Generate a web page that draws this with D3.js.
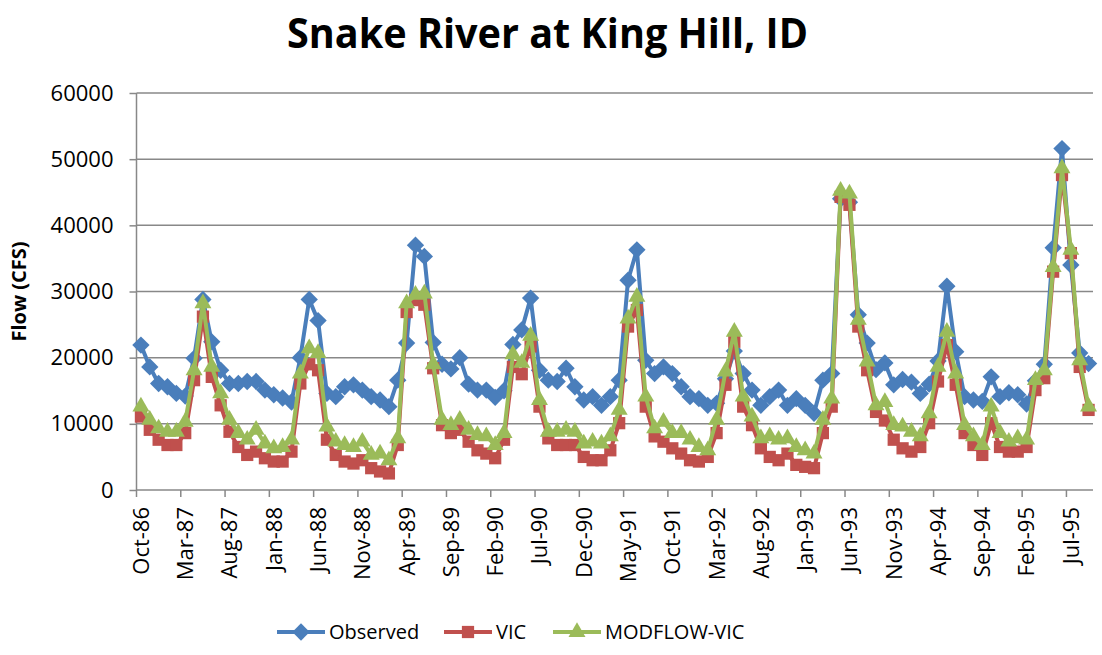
<!DOCTYPE html>
<html>
<head>
<meta charset="utf-8">
<script src="https://cdn.jsdelivr.net/npm/d3@7"></script>
<style>
  body { margin: 0; background: #fff; }
  text { font-family: "Open Sans", sans-serif; fill: #000; }
</style>
</head>
<body>
<div id="chart"></div>
<script>
// monthly flows, Oct-86 .. Sep-95
var observed = [21900, 18600, 16100, 15600, 14600, 14200, 19900, 28800, 22400, 18100, 16100, 16100,
  16400, 16400, 15100, 14400, 13900, 13300, 20000, 28800, 25600, 14600, 14100, 15600,
  15900, 15100, 14100, 13600, 12600, 16600, 22200, 37000, 35300, 22300, 19000, 18300,
  20000, 16000, 15100, 15100, 14000, 15000, 22000, 24200, 29000, 18100, 16600, 16400,
  18400, 15600, 13600, 14100, 12800, 14100, 16600, 31700, 36300, 19600, 17600, 18600,
  17600, 15600, 14100, 13800, 12800, 13100, 16800, 21000, 17600, 15100, 12800, 14100,
  15100, 12800, 13800, 12800, 11600, 16600, 17600, 44000, 43500, 26500, 22200, 18200,
  19200, 15900, 16700, 16300, 14600, 16000, 19500, 30800, 20900, 14100, 13600, 13400,
  17100, 14100, 14700, 14400, 13000, 16500, 19000, 36600, 51600, 34000, 20700, 19100]

var vic = [11100, 9100, 7600, 6800, 6800, 8600, 16600, 26200, 17100, 12800, 8800, 6500,
  5300, 5800, 4800, 4300, 4300, 5800, 16100, 19000, 18100, 7600, 5300, 4300,
  4000, 4500, 3300, 2800, 2500, 6800, 26900, 28700, 28000, 18400, 9800, 8600,
  9100, 7300, 6000, 5500, 4800, 7600, 18600, 17500, 21700, 12600, 7800, 6800,
  6800, 6800, 5000, 4500, 4500, 6000, 10100, 24700, 27200, 12600, 8100, 7300,
  6300, 5500, 4500, 4300, 5000, 8600, 15900, 22400, 12600, 9800, 6300, 5000,
  4500, 5500, 3800, 3500, 3300, 8600, 12600, 44300, 43100, 24700, 18100, 11800,
  10500, 7600, 6300, 5800, 6500, 10100, 16400, 21900, 15900, 8600, 6800, 5300,
  10100, 6500, 5800, 5800, 6500, 15100, 16900, 33000, 47600, 35800, 18600, 12100]

var modflowVic = [12600, 10600, 9300, 8800, 8800, 10300, 18100, 28200, 18600, 14600, 10600, 8600,
  7600, 9100, 7000, 6300, 6500, 7600, 17600, 21400, 20700, 9600, 7300, 6800,
  6500, 7300, 5300, 5500, 4500, 7800, 28200, 29500, 29700, 19000, 10600, 9800,
  10600, 9100, 8300, 8100, 6800, 8600, 20500, 19200, 23300, 13600, 8800, 8800,
  9100, 8800, 7000, 7300, 7000, 8100, 12100, 25900, 29200, 14100, 9300, 10300,
  8600, 8600, 7600, 6500, 6000, 10600, 17900, 23900, 14100, 11100, 7800, 8100,
  7600, 7800, 6500, 6000, 5500, 10600, 13800, 45200, 44800, 25700, 19400, 12800,
  13300, 9800, 9600, 8800, 8100, 11600, 18600, 23900, 17600, 9800, 8100, 6800,
  12600, 8600, 7300, 7800, 7600, 16600, 18100, 33700, 48600, 36300, 19600, 12600]

var yTicks = [0, 10000, 20000, 30000, 40000, 50000, 60000]
var xTickLabels = ["Oct-86", "Mar-87", "Aug-87", "Jan-88", "Jun-88", "Nov-88", "Apr-89", "Sep-89",
  "Feb-90", "Jul-90", "Dec-90", "May-91", "Oct-91", "Mar-92", "Aug-92", "Jan-93", "Jun-93",
  "Nov-93", "Apr-94", "Sep-94", "Feb-95", "Jul-95"]
var seriesNames = ["Observed", "VIC", "MODFLOW-VIC"]
var colors = ["#4a7ebb", "#c0504d", "#9bbb59"]

var months = d3.timeMonth.range(new Date(1986, 9, 1), new Date(1995, 9, 1))
var fmt = d3.timeFormat("%b-%y")
var labels = months.map(function(m) { return fmt(m) })

var width = 1102, height = 655
var plotLeft = 136.5, plotRight = 1093, plotTop = 93, plotBottom = 490

var svg = d3.select("#chart").append("svg")
    .attr("width", width)
    .attr("height", height)

var x = d3.scaleBand().domain(labels).range([plotLeft, plotRight]).padding(0)
var y = d3.scaleLinear().domain([0, 60000]).range([plotBottom, plotTop])

// title
svg.append("text")
    .attr("x", 287).attr("y", 48)
    .attr("font-size", 42).attr("font-weight", "bold")
    .attr("textLength", 521).attr("lengthAdjust", "spacingAndGlyphs")
    .text("Snake River at King Hill, ID")

// gridlines
svg.append("g").selectAll("line")
    .data(yTicks.filter(function(d) { return d > 0 }))
    .enter().append("line")
    .attr("x1", plotLeft).attr("x2", plotRight)
    .attr("y1", function(d) { return y(d) }).attr("y2", function(d) { return y(d) })
    .attr("stroke", "#888").attr("stroke-width", 1.5)

// y axis
var yAxis = svg.append("g")
    .attr("transform", "translate(" + plotLeft + ",0)")
    .call(d3.axisLeft(y).tickValues(yTicks).tickSize(7).tickPadding(16).tickFormat(d3.format("d")))
yAxis.selectAll("line, path").attr("stroke", "#888").attr("stroke-width", 1.5)
yAxis.select(".domain").attr("d", "M0," + plotTop + "V" + plotBottom)
yAxis.selectAll("text").attr("font-size", 22).attr("font-family", "Open Sans, sans-serif").attr("fill", "#000")

svg.append("text")
    .attr("transform", "translate(26," + ((plotTop + plotBottom) / 2) + ") rotate(-90)")
    .attr("text-anchor", "middle")
    .attr("font-size", 20).attr("font-weight", "bold")
    .text("Flow (CFS)")

// x axis
svg.append("line")
    .attr("x1", plotLeft).attr("x2", plotRight).attr("y1", plotBottom).attr("y2", plotBottom)
    .attr("stroke", "#888").attr("stroke-width", 1.5)

svg.append("g").selectAll("line")
    .data(xTickLabels)
    .enter().append("line")
    .attr("x1", function(d) { return x(d) }).attr("x2", function(d) { return x(d) })
    .attr("y1", plotBottom).attr("y2", plotBottom + 7)
    .attr("stroke", "#888").attr("stroke-width", 1.5)

svg.append("g").selectAll("text")
    .data(xTickLabels)
    .enter().append("text")
    .attr("transform", function(d) {
        return "translate(" + (x(d) + x.bandwidth() / 2) + "," + (plotBottom + 17) + ") rotate(-90)"
    })
    .attr("text-anchor", "end")
    .attr("dy", "0.36em")
    .attr("font-size", 22)
    .text(function(d) { return d })

// markers (bigger, like the excel defaults)
var diamond = d3.symbol().type(d3.symbolSquare).size(150)
var square = d3.symbol().type(d3.symbolSquare).size(150)
var triangle = d3.symbol().type(d3.symbolTriangle).size(125)

function markerPath(k) {
    if (k === 0) return diamond()
    if (k === 1) return square()
    return triangle()
}
function markerRot(k) { return k === 0 ? " rotate(45)" : "" }

var allSeries = [observed, vic, modflowVic]
var line = d3.line()
    .x(function(d, i) { return x(labels[i]) + x.bandwidth() / 2 })
    .y(function(d) { return y(d) })

allSeries.forEach(function(vals, k) {
    var g = svg.append("g")
    g.append("path")
        .datum(vals)
        .attr("d", line)
        .attr("fill", "none")
        .attr("stroke", colors[k])
        .attr("stroke-width", 4)
        .attr("stroke-linejoin", "round")
    g.selectAll("path.pt")
        .data(vals)
        .enter().append("path")
        .attr("class", "pt")
        .attr("d", markerPath(k))
        .attr("transform", function(d, i) {
            return "translate(" + (x(labels[i]) + x.bandwidth() / 2) + "," + y(d) + ")" + markerRot(k)
        })
        .attr("fill", colors[k])
})

// legend
var legendX = [277, 444, 553]
var legend = svg.append("g")
seriesNames.forEach(function(name, k) {
    var lx = legendX[k], ly = 632
    legend.append("line")
        .attr("x1", lx).attr("x2", lx + 48).attr("y1", ly).attr("y2", ly)
        .attr("stroke", colors[k]).attr("stroke-width", 4)
    legend.append("path")
        .attr("d", markerPath(k))
        .attr("transform", "translate(" + (lx + 24) + "," + ly + ")" + markerRot(k))
        .attr("fill", colors[k])
    legend.append("text")
        .attr("x", lx + 52).attr("y", ly).attr("dy", "0.35em")
        .attr("font-size", 20)
        .text(name)
})
</script>
</body>
</html>
